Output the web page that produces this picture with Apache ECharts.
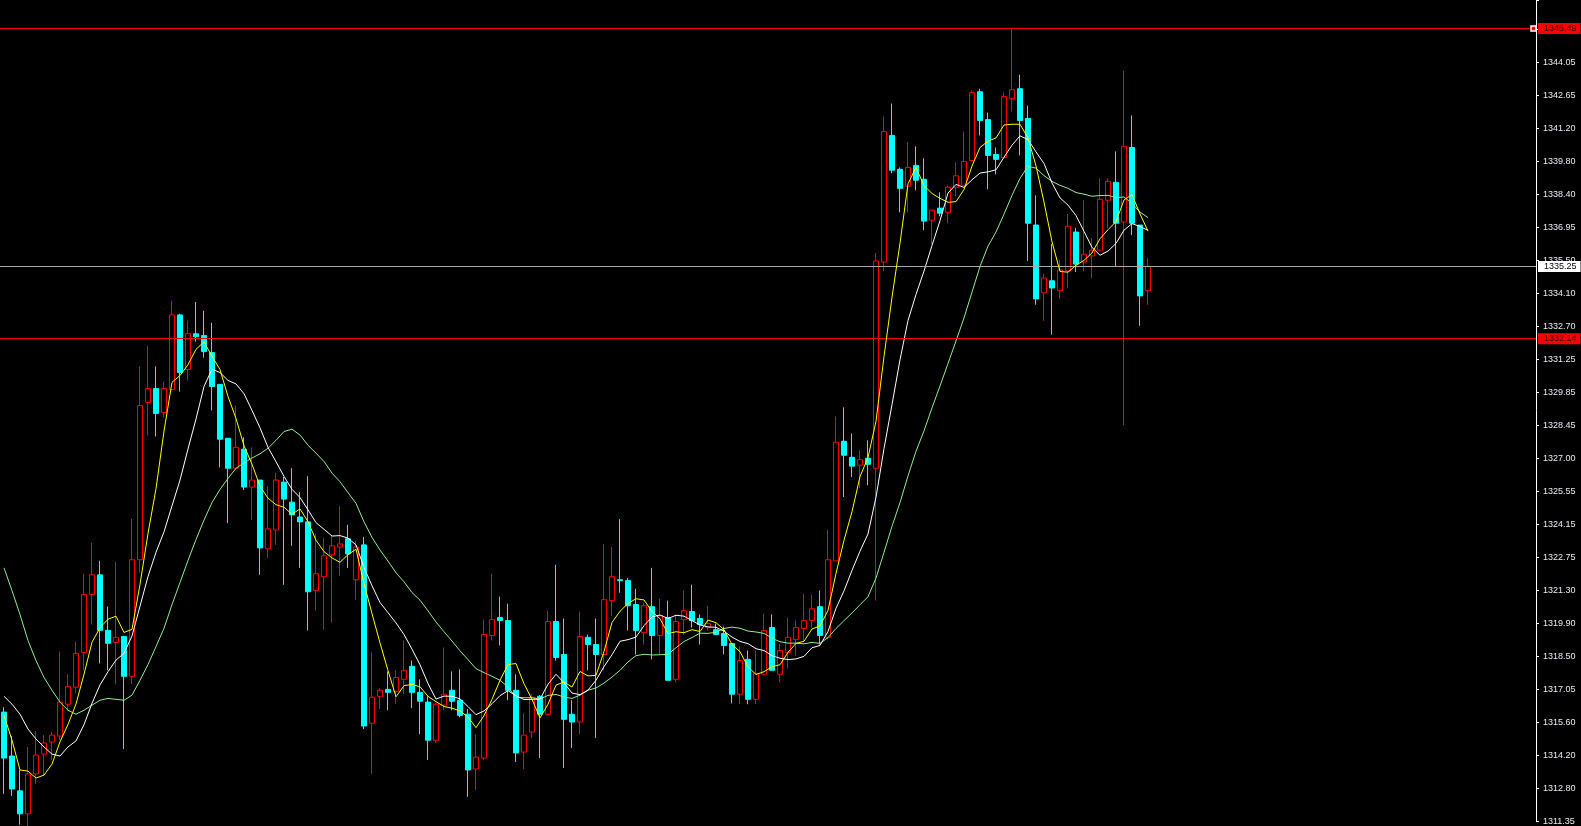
<!DOCTYPE html>
<html>
<head>
<meta charset="utf-8">
<script src="https://cdn.jsdelivr.net/npm/echarts@6/dist/echarts.min.js"></script>
<style>
html,body{margin:0;padding:0;background:#000;}
#chart{width:1581px;height:826px;}
</style>
</head>
<body>
<div id="chart"></div>
<script>
// ---- data ----
const opens = [1316.06,1314.17,1312.67,1311.68,1313.40,1314.25,1314.77,1315.03,1316.40,1317.13,
1318.63,1321.12,1321.97,1319.58,1319.06,1319.32,1317.60,1322.62,1329.39,1329.99,
1328.96,1329.95,1333.16,1330.81,1332.35,1332.27,1331.54,1330.17,1327.85,1326.56,
1327.38,1325.75,1326.05,1323.09,1323.90,1325.96,1325.10,1324.46,1324.25,1321.29,
1321.89,1322.83,1323.17,1323.52,1321.76,1323.26,1315.58,1316.74,1317.04,1316.95,
1317.47,1318.03,1316.91,1316.49,1314.85,1316.36,1317.00,1316.57,1315.97,1313.61,
1314.08,1319.36,1320.13,1320.00,1317.00,1314.34,1315.20,1316.74,1315.97,1319.96,
1318.54,1315.97,1315.63,1319.28,1318.97,1318.54,1320.86,1321.76,1321.72,1320.69,
1319.49,1320.60,1319.36,1320.13,1317.47,1320.04,1320.39,1320.09,1319.70,1319.61,
1319.44,1319.01,1316.83,1318.33,1316.61,1317.69,1319.70,1317.69,1318.63,1319.19,
1319.66,1320.00,1320.60,1319.28,1322.57,1327.72,1327.03,1326.69,1326.99,1326.56,
1335.44,1340.89,1339.43,1338.70,1339.60,1339.00,1337.24,1337.76,1337.58,1338.66,
1338.74,1339.81,1342.77,1341.57,1340.07,1339.94,1342.47,1342.90,1341.62,1337.03,
1334.11,1334.63,1334.20,1335.05,1336.73,1335.44,1335.70,1335.95,1338.10,1338.87,
1337.16,1340.37,1337.03,1334.20];
const closes = [1314.08,1312.75,1311.68,1313.40,1314.21,1314.73,1315.07,1316.49,1317.17,1318.59,
1321.12,1321.97,1319.58,1319.02,1319.28,1317.60,1322.62,1329.26,1329.99,1328.92,
1329.99,1333.16,1330.68,1332.35,1332.22,1331.58,1330.08,1327.81,1326.56,1327.46,
1325.75,1326.05,1323.13,1323.95,1326.05,1325.23,1324.55,1324.25,1321.24,1322.02,
1322.79,1323.22,1323.30,1322.87,1323.17,1315.46,1316.70,1317.00,1316.91,1317.55,
1317.86,1316.91,1316.53,1314.85,1316.40,1316.83,1316.53,1315.92,1313.57,1314.12,
1319.40,1320.04,1320.00,1317.00,1314.30,1315.07,1316.70,1315.97,1319.96,1318.41,
1315.75,1315.63,1319.32,1318.97,1318.54,1320.90,1321.89,1321.72,1320.64,1319.57,
1320.64,1319.36,1320.21,1317.43,1319.96,1320.43,1320.00,1319.83,1319.87,1319.40,
1318.93,1316.83,1318.28,1316.61,1317.73,1319.57,1317.86,1318.71,1319.28,1319.70,
1320.00,1320.51,1319.36,1322.62,1327.68,1327.12,1326.65,1326.93,1326.73,1335.48,
1341.06,1339.39,1338.61,1339.51,1338.96,1337.20,1337.67,1337.54,1338.66,1339.15,
1339.77,1342.73,1341.53,1340.03,1339.86,1342.56,1342.86,1341.53,1337.11,1333.85,
1334.75,1334.32,1335.10,1336.98,1335.35,1335.78,1335.95,1338.14,1338.91,1337.11,
1340.42,1337.11,1333.98,1335.25];
const lows = [1312.54,1312.45,1311.21,1311.12,1312.97,1313.31,1314.00,1314.86,1316.10,1316.87,
1317.86,1319.83,1318.16,1317.86,1317.26,1314.47,1317.26,1322.06,1327.98,1327.93,
1328.75,1329.90,1329.86,1330.34,1332.01,1331.32,1329.05,1326.60,1324.20,1326.48,
1325.62,1324.33,1321.97,1322.70,1323.26,1321.54,1323.22,1322.27,1319.57,1320.43,
1319.61,1319.91,1321.93,1322.27,1320.90,1315.33,1313.40,1316.19,1316.14,1316.40,
1316.83,1316.23,1315.11,1314.00,1314.72,1316.14,1316.14,1315.84,1312.41,1312.71,
1314.00,1319.14,1318.93,1316.57,1313.91,1313.61,1314.94,1314.08,1315.92,1318.28,
1313.65,1314.51,1315.11,1317.86,1314.94,1317.86,1320.21,1321.20,1319.57,1318.54,
1318.97,1318.33,1318.54,1317.43,1317.34,1319.40,1319.70,1318.97,1319.57,1319.40,
1318.54,1316.44,1316.40,1316.40,1316.40,1317.69,1317.86,1317.34,1317.94,1318.50,
1319.06,1319.70,1318.97,1319.19,1322.57,1325.32,1326.18,1325.70,1325.83,1320.86,
1335.05,1339.26,1337.58,1337.58,1338.53,1336.81,1336.21,1337.41,1337.11,1338.27,
1338.74,1339.77,1340.89,1338.57,1339.21,1339.94,1341.92,1340.03,1335.48,1333.60,
1332.91,1332.31,1333.85,1334.32,1335.01,1335.05,1334.75,1335.95,1336.90,1335.27,
1328.41,1336.60,1332.69,1333.60];
const highs = [1316.27,1315.03,1313.57,1314.56,1315.24,1315.07,1315.20,1318.67,1317.69,1319.10,
1322.02,1323.35,1322.57,1320.60,1322.53,1319.32,1324.38,1330.94,1331.84,1330.94,
1330.29,1333.77,1333.21,1332.91,1333.72,1333.34,1332.82,1330.17,1327.85,1329.26,
1327.89,1327.46,1326.05,1325.79,1326.35,1326.18,1326.56,1325.53,1326.22,1323.73,
1323.56,1323.69,1324.93,1324.12,1323.43,1323.60,1318.63,1317.08,1317.81,1317.86,
1319.14,1318.28,1317.47,1316.74,1316.44,1318.84,1317.81,1317.90,1316.19,1315.11,
1320.04,1322.02,1321.03,1320.73,1317.69,1316.01,1316.83,1316.79,1320.43,1322.40,
1320.09,1316.57,1320.39,1319.40,1320.09,1323.30,1323.17,1324.37,1321.84,1321.37,
1320.77,1322.27,1320.94,1320.86,1320.26,1321.29,1321.54,1320.26,1320.64,1319.87,
1319.74,1319.01,1318.88,1318.71,1318.71,1320.30,1320.26,1319.01,1320.13,1320.00,
1321.16,1321.12,1321.29,1323.90,1328.79,1329.18,1328.06,1327.33,1327.76,1335.83,
1341.70,1342.26,1339.51,1340.59,1340.42,1339.90,1337.71,1338.44,1338.74,1339.73,
1341.06,1342.82,1342.90,1341.87,1340.37,1342.73,1345.49,1343.50,1342.17,1338.31,
1334.93,1336.21,1335.53,1337.50,1336.90,1338.10,1336.47,1339.04,1339.04,1340.20,
1343.67,1341.75,1337.03,1335.61];
const ma5 = [1315.92,1314.85,1313.57,1313.52,1313.22,1313.35,1313.82,1314.78,1315.53,1316.41,
1317.69,1319.07,1319.69,1320.06,1320.19,1319.49,1319.62,1321.56,1323.75,1325.68,
1328.16,1330.26,1330.55,1331.02,1331.68,1332.00,1331.38,1330.81,1329.65,1328.70,
1327.53,1326.73,1325.79,1325.27,1324.99,1324.88,1324.58,1324.81,1324.26,1323.46,
1322.97,1322.70,1322.51,1322.84,1323.07,1321.60,1320.30,1319.04,1317.85,1316.72,
1317.20,1317.25,1317.15,1316.74,1316.51,1316.30,1316.23,1316.11,1315.85,1315.39,
1315.91,1316.61,1317.43,1318.11,1318.15,1317.28,1316.61,1315.81,1316.40,1317.22,
1317.36,1317.14,1317.81,1317.62,1317.64,1318.67,1319.92,1320.40,1320.74,1320.94,
1320.89,1320.39,1320.08,1319.44,1319.52,1319.48,1319.61,1319.53,1320.02,1319.91,
1319.61,1318.97,1318.66,1318.01,1317.68,1317.80,1318.01,1318.10,1318.63,1319.02,
1319.11,1319.64,1319.77,1320.44,1322.03,1323.46,1324.69,1326.20,1327.02,1328.58,
1331.37,1333.92,1336.25,1338.81,1339.51,1338.73,1338.39,1338.18,1338.01,1338.04,
1338.56,1339.57,1340.37,1340.64,1340.78,1341.34,1341.37,1341.37,1340.78,1339.58,
1338.02,1336.31,1335.03,1335.00,1335.30,1335.51,1335.83,1336.44,1336.83,1337.18,
1338.11,1338.34,1337.51,1336.77];
const ma10 = [1316.74,1316.40,1315.97,1315.33,1314.90,1314.56,1314.25,1314.17,1314.56,1314.82,
1315.52,1316.44,1317.23,1317.80,1318.30,1318.59,1319.34,1320.62,1321.90,1322.94,
1323.82,1324.94,1326.05,1327.39,1328.68,1330.08,1330.82,1330.68,1330.34,1330.19,
1329.77,1329.05,1328.30,1327.46,1326.84,1326.21,1325.65,1325.30,1324.77,1324.22,
1323.93,1323.64,1323.66,1323.55,1323.26,1322.29,1321.50,1320.78,1320.34,1319.90,
1319.40,1318.77,1318.10,1317.29,1316.62,1316.75,1316.74,1316.63,1316.30,1315.95,
1316.11,1316.42,1316.77,1316.98,1316.77,1316.60,1316.61,1316.62,1317.26,1317.69,
1317.32,1316.88,1316.81,1317.01,1317.43,1318.02,1318.53,1319.11,1319.18,1319.29,
1319.78,1320.16,1320.24,1320.09,1320.23,1320.19,1320.00,1319.81,1319.73,1319.71,
1319.54,1319.29,1319.10,1319.01,1318.79,1318.71,1318.49,1318.38,1318.32,1318.35,
1318.46,1318.83,1318.93,1319.53,1320.53,1321.28,1322.16,1322.99,1323.73,1325.31,
1327.41,1329.30,1331.23,1332.92,1334.04,1335.05,1336.15,1337.22,1338.41,1338.78,
1338.65,1338.98,1339.27,1339.32,1339.41,1339.95,1340.47,1340.87,1340.71,1340.18,
1339.68,1338.84,1338.20,1337.89,1337.44,1336.76,1336.07,1335.73,1335.91,1336.24,
1336.81,1337.09,1336.97,1336.80];
const ma20 = [1322.27,1321.29,1320.26,1319.14,1318.28,1317.55,1317.00,1316.49,1316.14,1315.97,
1316.14,1316.36,1316.57,1316.65,1316.61,1316.57,1316.79,1317.43,1318.11,1318.88,
1319.67,1320.69,1321.64,1322.59,1323.49,1324.33,1325.08,1325.65,1326.12,1326.56,
1326.79,1327.00,1327.18,1327.42,1327.76,1328.14,1328.24,1327.99,1327.55,1327.21,
1326.85,1326.35,1325.98,1325.51,1325.05,1324.25,1323.58,1323.04,1322.56,1322.06,
1321.67,1321.21,1320.88,1320.42,1319.94,1319.52,1319.12,1318.70,1318.32,1317.93,
1317.76,1317.60,1317.43,1317.14,1316.69,1316.68,1316.68,1316.62,1316.78,1316.82,
1316.71,1316.65,1316.79,1317.00,1317.10,1317.31,1317.57,1317.86,1318.22,1318.49,
1318.55,1318.52,1318.53,1318.55,1318.83,1319.10,1319.27,1319.46,1319.45,1319.50,
1319.66,1319.72,1319.67,1319.55,1319.51,1319.45,1319.24,1319.09,1319.03,1319.03,
1319.00,1319.06,1319.02,1319.27,1319.66,1320.00,1320.33,1320.68,1321.03,1321.83,
1322.94,1324.06,1325.08,1326.23,1327.29,1328.17,1329.16,1330.10,1331.07,1332.04,
1333.03,1334.14,1335.25,1336.12,1336.73,1337.50,1338.31,1339.04,1339.56,1339.48,
1339.16,1338.91,1338.74,1338.61,1338.43,1338.36,1338.27,1338.30,1338.31,1338.21,
1338.24,1337.96,1337.59,1337.35];
const tickLabels = ['1311.35','1312.80','1314.20','1315.60','1317.05','1318.50','1319.90','1321.30',
'1322.75','1324.15','1325.55','1327.00','1328.45','1329.85','1331.25','1332.70','1334.10','1335.50',
'1336.95','1338.40','1339.80','1341.20','1342.65','1344.05'];
const levelHigh = 1345.49;   // red line (top)
const levelBid = 1335.25;    // grey line (current)
const levelLow = 1332.14;    // red line (lower)
const slotCount = 192;       // category slots across the plot (data + empty right margin)
const categories = [];
for (let i = 0; i < slotCount; i++) categories.push(String(i));

// ---- build ----
const candleData = opens.map((o, i) => [o, closes[i], lows[i], highs[i]]);
const axisMin = 1311.35, axisMax = 1346.72, axisStep = 1.4217;

const chart = echarts.init(document.getElementById('chart'), null, {renderer: 'canvas'});
function lvlLabel(bg, fg) {
  return {show: true, position: 'end', distance: 2, backgroundColor: bg, color: fg,
    fontFamily: 'Liberation Sans', fontSize: 9, padding: [1, 4, 1, 6], lineHeight: 9,
    formatter: p => Number(p.value).toFixed(2)};
}
chart.setOption({
  backgroundColor: '#000000',
  animation: false,
  grid: {left: -2, right: 45, top: 0, bottom: 1.2, containLabel: false},
  xAxis: {type: 'category', data: categories, boundaryGap: true, show: false},
  yAxis: {
    type: 'value', position: 'right', min: axisMin, max: axisMax, interval: axisStep,
    axisLine: {show: true, lineStyle: {color: '#ffffff', width: 1}},
    axisTick: {show: true, length: 3, lineStyle: {color: '#ffffff'}},
    splitLine: {show: false},
    axisLabel: {
      color: '#e8eef6', fontSize: 9, fontFamily: 'Liberation Sans', margin: 7,
      formatter: v => {
        const k = Math.round((v - axisMin) / axisStep);
        if (k < 0 || k >= tickLabels.length) return '';
        if (Math.abs(v - (axisMin + k * axisStep)) > 0.05) return '';
        return tickLabels[k];
      }
    }
  },
  series: [
    {
      type: 'candlestick', data: candleData, barWidth: 5, clip: false, z: 2,
      itemStyle: {color: '#000000', color0: '#00ffff', borderColor: '#ff0000', borderColor0: '#00ffff',
        borderColorDoji: '#00ffff', borderWidth: 1},
      markLine: {
        silent: true, symbol: ['none', 'none'], animation: false,
        data: [
          {yAxis: levelHigh, lineStyle: {color: '#ff0000', width: 1, type: 'solid'}, label: lvlLabel('#ff0000', '#2a0000')},
          {yAxis: levelBid, lineStyle: {color: '#a8a8a8', width: 1, type: 'solid'}, label: lvlLabel('#ffffff', '#000000')},
          {yAxis: levelLow, lineStyle: {color: '#ff0000', width: 1, type: 'solid'}, label: lvlLabel('#ff0000', '#2a0000')}
        ]
      }
    },
    {type: 'line', data: ma20, symbol: 'none', showSymbol: false, z: 3, lineStyle: {color: '#90ee90', width: 1}},
    {type: 'line', data: ma10, symbol: 'none', showSymbol: false, z: 4, lineStyle: {color: '#ffffff', width: 1}},
    {type: 'line', data: ma5, symbol: 'none', showSymbol: false, z: 5, lineStyle: {color: '#ffff00', width: 1}}
  ]
});
// small marker at the right end of the top price line
const yPix = chart.convertToPixel({yAxisIndex: 0}, levelHigh);
chart.setOption({graphic: [{type: 'rect', z: 100, shape: {x: 1531, y: yPix - 2.5, width: 5, height: 5},
  style: {fill: '#ff0000', stroke: '#ffffff', lineWidth: 1.5}}]});
</script>
</body>
</html>
